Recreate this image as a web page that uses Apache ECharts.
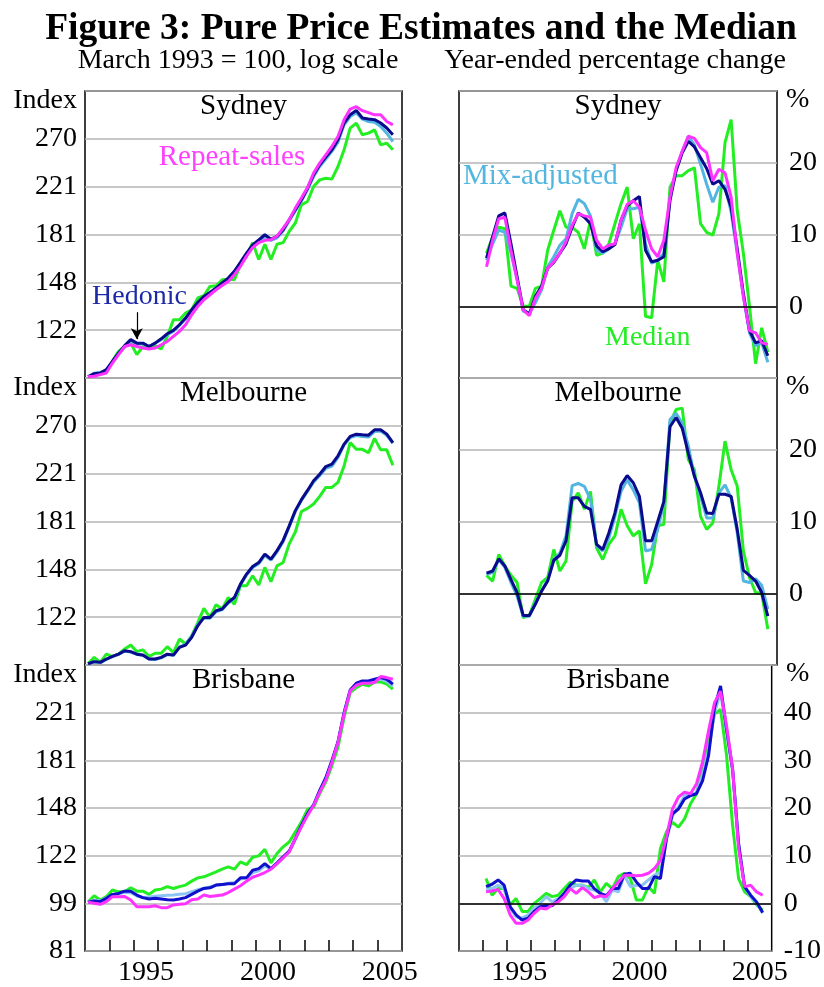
<!DOCTYPE html>
<html>
<head>
<meta charset="utf-8">
<script src="https://cdn.jsdelivr.net/npm/echarts@6/dist/echarts.min.js"></script>
<style>
  html, body { margin: 0; padding: 0; background: #fff; }
  #chart { width: 824px; height: 987px; }
</style>
</head>
<body>
<div id="chart"></div>
<script>
// Quarterly, March 1993 to September 2005; points sit mid-quarter
const firstYear = 1993;
const nQuarters = 51;
const changeStart = 4; // year-ended changes begin March 1994
const tickYears = [1994, 1995, 1996, 1997, 1998, 1999, 2000, 2001, 2002, 2003, 2004, 2005];
const labelYears = [1995, 2000, 2005];

// ---- index levels (March 1993 = 100) ----
const sydHedonic = [100, 101.3, 101.6, 103.0, 106.7, 110.4, 113.9, 116.8, 115.1, 115.1,
  113.5, 115.1, 117.2, 119.7, 121.4, 124.3, 127.8, 132.3, 136.5, 139.9,
  142.3, 144.9, 148.0, 151.1, 155.4, 161.3, 167.7, 173.6, 177.3, 181.1,
  177.8, 179.8, 184.9, 192.8, 201.0, 209.6, 220.0, 232.6, 242.6, 250.5,
  258.3, 269.4, 288.9, 299.1, 304.6, 295.0, 293.8, 293.0, 288.9, 283.0, 275.2];
const sydMix = [100, 101.5, 101.8, 102.8, 106.2, 110.0, 113.2, 116.0, 114.6, 114.8,
  113.6, 115.0, 116.8, 119.2, 121.0, 124.0, 127.5, 132.0, 136.2, 139.6,
  142.0, 144.6, 147.6, 150.8, 155.0, 160.8, 167.0, 173.0, 176.4, 179.8,
  176.8, 178.8, 184.0, 192.0, 200.2, 208.5, 218.6, 231.0, 240.9, 248.6,
  256.6, 266.8, 286.7, 296.9, 301.7, 293.6, 290.7, 289.7, 284.7, 276.9, 267.4];
const sydRepeat = [100, 100.2, 100.9, 101.6, 105.9, 109.7, 113.5, 114.3, 113.5, 112.8,
  112.3, 112.8, 114.3, 115.9, 118.4, 120.9, 124.3, 129.6, 134.2, 138.0,
  140.9, 143.9, 146.5, 149.0, 153.2, 158.7, 165.6, 171.6, 175.2, 176.9,
  177.3, 180.0, 186.2, 192.8, 202.4, 211.1, 220.6, 234.3, 244.3, 252.9,
  261.9, 273.1, 292.8, 306.3, 309.3, 304.2, 301.7, 299.0, 299.0, 290.7, 286.7];
const sydMedian = [100, 100.9, 101.6, 102.3, 106.7, 111.2, 113.5, 115.1, 109.7, 113.5,
  113.5, 113.9, 112.3, 118.4, 126.9, 126.9, 130.5, 132.3, 139.0, 140.3,
  145.9, 146.3, 150.0, 150.4, 150.0, 159.8, 165.6, 175.2, 163.3, 174.0,
  163.3, 174.0, 175.2, 183.6, 190.2, 205.2, 208.1, 221.6, 227.8, 229.4,
  228.5, 240.9, 258.3, 282.8, 288.7, 275.0, 276.9, 280.8, 263.7, 265.6, 258.3];

const melHedonic = [100, 100.9, 100.6, 102.0, 103.1, 104.1, 105.6, 105.2, 104.1, 103.7,
  102.0, 102.0, 102.7, 104.1, 103.7, 107.1, 108.1, 111.7, 117.2, 121.4,
  121.4, 124.8, 125.7, 129.3, 131.9, 139.5, 145.5, 150.2, 152.7, 158.2,
  154.9, 160.5, 167.5, 178.0, 189.7, 198.6, 206.4, 214.9, 220.9, 228.1,
  230.4, 238.6, 250.5, 258.7, 261.2, 260.5, 260.1, 266.0, 266.0, 261.2, 252.2];
const melMix = [100, 100.7, 100.4, 101.8, 103.0, 104.0, 105.4, 105.0, 104.0, 103.5,
  102.0, 101.8, 102.5, 103.9, 103.6, 107.3, 108.5, 112.2, 117.8, 121.0,
  121.0, 124.3, 125.4, 128.9, 131.5, 139.0, 145.0, 149.6, 152.0, 157.4,
  154.2, 159.7, 166.6, 177.3, 189.0, 198.0, 205.6, 213.8, 219.6, 226.3,
  228.5, 237.0, 249.5, 257.4, 259.6, 258.7, 258.0, 264.2, 264.6, 260.0, 251.2];
const melMedian = [100, 102.7, 100.6, 104.1, 103.1, 104.1, 106.4, 108.1, 105.2, 106.0,
  103.1, 104.5, 104.5, 107.4, 104.8, 110.9, 108.6, 112.4, 118.8, 126.1,
  121.4, 128.0, 125.7, 131.9, 128.3, 138.6, 138.6, 144.5, 139.0, 149.6,
  140.9, 150.6, 152.7, 165.1, 173.5, 189.0, 191.5, 195.0, 201.3, 209.0,
  209.0, 213.5, 228.7, 252.2, 245.1, 245.1, 241.6, 256.6, 244.6, 244.6, 229.4];

const brisHedonic = [100, 100.5, 100.2, 101.6, 103.3, 103.7, 104.7, 104.7, 103.0, 101.9,
  101.3, 101.6, 101.3, 101.0, 100.9, 101.3, 101.9, 103.3, 104.7, 105.9,
  106.2, 107.4, 107.7, 108.0, 108.0, 110.7, 110.7, 114.3, 115.1, 117.5,
  115.1, 117.9, 120.9, 123.8, 130.5, 138.0, 144.9, 150.4, 159.8, 168.5,
  181.1, 196.0, 221.6, 243.6, 250.5, 252.9, 252.9, 254.7, 256.5, 254.7, 249.5];
const brisMix = [100, 100.8, 100.5, 101.8, 103.0, 103.5, 104.2, 104.0, 102.6, 101.8,
  102.2, 102.5, 102.7, 102.9, 103.0, 103.3, 103.6, 104.5, 105.3, 106.0,
  106.6, 107.4, 107.6, 108.2, 108.6, 110.2, 110.6, 113.2, 114.0, 116.4,
  115.0, 117.4, 120.4, 123.5, 130.0, 137.6, 144.5, 150.0, 159.4, 168.0,
  180.4, 195.5, 220.7, 242.5, 249.3, 251.6, 251.9, 253.6, 254.9, 252.5, 247.2];
const brisRepeat = [100, 99.5, 99.1, 100.2, 102.3, 102.3, 102.4, 100.9, 98.1, 98.1,
  98.1, 98.5, 97.7, 97.7, 98.8, 99.1, 99.3, 101.0, 101.3, 103.0,
  102.4, 102.7, 103.0, 104.1, 105.6, 107.1, 109.2, 111.0, 112.0, 113.2,
  114.8, 117.5, 120.4, 123.4, 130.5, 137.1, 143.9, 150.0, 158.7, 166.8,
  179.8, 195.5, 220.0, 242.6, 248.4, 250.5, 250.5, 251.2, 257.6, 256.5, 254.7];
const brisMedian = [100, 102.7, 100.9, 102.3, 105.2, 104.4, 104.4, 106.2, 104.7, 104.7,
  103.3, 105.2, 105.6, 106.7, 105.9, 106.7, 107.4, 109.2, 110.7, 111.2,
  112.3, 113.5, 114.8, 115.9, 114.8, 118.4, 117.0, 120.7, 121.4, 124.8,
  117.9, 122.6, 126.1, 128.7, 134.2, 139.9, 147.6, 149.0, 157.6, 165.6,
  177.3, 191.5, 217.0, 240.9, 245.9, 249.5, 247.7, 251.9, 251.9, 249.5, 244.3];

// ---- year-ended percentage change, March 1994 onwards ----
const sydHedonicChg = [6.7, 9.7, 12.6, 13.0, 8.7, 4.1, -0.5, -1.1, 1.4, 2.8,
  5.3, 6.1, 7.4, 8.7, 11.0, 13.0, 12.4, 11.5, 8.4, 7.6,
  8.0, 8.6, 12.0, 14.0, 14.7, 15.3, 7.8, 6.2, 6.4, 6.9,
  14.7, 18.9, 21.4, 23.0, 22.2, 20.7, 19.2, 17.0, 17.5, 16.3,
  13.8, 8.0, 1.8, -3.4, -5.1, -4.8, -6.9];
const sydMixChg = [6.4, 8.7, 10.6, 10.3, 7.4, 3.7, -0.7, -0.9, 0.5, 2.3,
  5.5, 6.9, 8.5, 9.4, 12.9, 14.9, 14.3, 12.6, 7.8, 7.4,
  8.0, 8.7, 11.0, 13.6, 13.6, 13.8, 8.7, 6.0, 6.4, 7.4,
  15.2, 18.9, 21.6, 23.7, 22.5, 19.8, 17.0, 14.5, 16.6, 16.8,
  13.1, 7.4, 1.4, -3.7, -5.5, -5.1, -7.8];
const sydRepeatChg = [5.5, 9.2, 12.2, 12.4, 7.8, 3.7, -0.5, -1.3, 1.1, 2.5,
  5.3, 6.2, 7.4, 9.0, 11.3, 12.9, 12.6, 12.4, 9.2, 8.0,
  8.5, 8.7, 12.0, 14.2, 14.7, 13.8, 10.6, 8.0, 6.9, 9.2,
  15.2, 19.3, 21.6, 23.7, 23.4, 22.1, 21.4, 17.5, 19.1, 18.6,
  15.2, 7.4, 1.4, -3.4, -3.7, -5.1, -5.3];
const sydMedianChg = [7.4, 9.7, 11.0, 10.8, 2.8, 2.5, 0, 0, 2.5, 2.8,
  7.8, 10.6, 13.3, 11.0, 11.0, 10.3, 8.0, 12.0, 7.1, 7.4,
  8.7, 11.5, 14.3, 16.6, 9.4, 11.5, -1.4, -1.6, 6.4, 3.4,
  16.6, 18.2, 18.2, 18.9, 19.3, 11.5, 10.3, 9.9, 12.9, 22.8,
  26.0, 13.3, 7.4, 0, -8.0, -3.0, -6.4];

const melHedonicChg = [2.8, 3.1, 4.8, 3.8, 1.9, 0.1, -3.1, -3.1, -1.5, 0.3,
  1.7, 4.6, 5.3, 7.3, 13.3, 13.3, 12.1, 11.7, 6.8, 6.1,
  8.4, 11.2, 15.1, 16.4, 15.4, 13.5, 7.3, 7.3, 10.0, 12.8,
  23.2, 24.5, 23.0, 19.5, 16.3, 14.0, 11.2, 11.1, 13.8, 13.8,
  13.5, 8.9, 3.2, 2.5, 1.7, 0.1, -3.2];
const melMixChg = [2.6, 2.9, 4.7, 3.6, 1.5, -0.4, -3.2, -3.2, -1.3, 0.3,
  1.9, 4.7, 5.6, 8.0, 15.0, 15.3, 14.9, 13.1, 6.6, 5.9,
  7.7, 10.7, 14.2, 15.8, 14.4, 12.6, 5.9, 6.1, 8.9, 12.6,
  24.2, 25.1, 23.7, 20.5, 16.3, 13.5, 10.5, 10.5, 14.0, 15.1,
  13.3, 8.4, 1.7, 1.5, 2.0, 1.1, -2.2];
const melMedianChg = [2.5, 1.7, 5.4, 3.8, 2.5, 1.5, -3.4, -3.1, -0.8, 1.5,
  2.2, 6.1, 3.1, 4.5, 12.8, 14.0, 11.7, 14.2, 6.3, 4.7,
  6.8, 8.0, 11.7, 9.4, 8.0, 8.7, 1.3, 4.0, 9.4, 9.6,
  23.7, 25.6, 25.8, 18.6, 17.2, 10.7, 8.9, 9.8, 14.9, 21.2,
  17.2, 14.9, 5.9, 2.2, 0.1, 0, -5.0];

const brisHedonicChg = [3.5, 4.0, 4.9, 3.8, -0.7, -2.4, -3.5, -3.1, -1.7, -0.7,
  -0.5, -0.5, 0.7, 2.1, 3.8, 4.9, 4.7, 4.7, 3.1, 2.1,
  1.6, 3.1, 3.1, 6.1, 6.3, 4.5, 3.1, 3.1, 5.6, 5.2,
  13.6, 18.8, 19.8, 21.9, 22.6, 23.0, 25.7, 31.0, 41.1, 45.6,
  36.5, 28.2, 12.5, 3.5, 1.7, 0.3, -1.9];
const brisMixChg = [2.8, 3.1, 3.8, 3.1, -1.0, -2.8, -3.1, -2.4, -1.0, 0,
  1.4, 0.3, 1.0, 1.4, 3.1, 3.8, 3.8, 3.1, 2.8, 2.1,
  0.3, 2.8, 2.4, 5.9, 3.5, 3.8, 3.8, 4.9, 5.9, 6.6,
  13.2, 18.4, 20.2, 22.6, 22.6, 23.3, 26.8, 32.0, 40.0, 44.2,
  35.8, 27.8, 12.5, 3.5, 1.4, 0, -2.1];
const brisRepeatChg = [2.4, 2.6, 2.9, 1.0, -2.4, -4.2, -4.2, -3.5, -2.1, -1.0,
  -1.2, -0.3, 0.3, 1.4, 3.1, 2.1, 3.3, 2.4, 1.2, 1.6,
  1.4, 3.1, 4.5, 5.9, 5.9, 5.8, 5.9, 6.3, 7.3, 9.0,
  13.9, 19.8, 22.3, 23.3, 23.0, 25.1, 29.6, 36.2, 42.1, 44.5,
  37.2, 28.2, 11.5, 3.5, 3.8, 2.4, 1.7];
const brisMedianChg = [5.2, 1.7, 3.1, 3.1, -0.3, 1.0, -1.7, -1.7, 0, 1.0,
  2.1, 1.4, 1.7, 3.1, 4.4, 3.8, 3.8, 3.3, 4.9, 2.4,
  4.2, 3.1, 5.6, 6.3, 5.2, 0.7, 0.7, 3.5, 2.1, 11.5,
  15.0, 17.0, 16.0, 17.7, 20.9, 23.0, 28.2, 34.4, 39.7, 40.7,
  31.0, 16.4, 5.2, 2.4, 1.4, -0.3, -1.4];

const quarterPos = [];
for (let i = 0; i < nQuarters; i++) quarterPos.push(firstYear + 0.125 + 0.25 * i);

const font = 'Liberation Serif';
const black = '#000';
const gridGrey = '#b4b4b4';
const colHedonic = '#0a0a8c';
const colHedonicBris = '#1010cc';
const colMix = '#52b6e0';
const colMixBris = '#8cc4f4';
const colRepeat = '#ff33ff';
const colMedian = '#22ee22';

const rowTops = [91, 378, 665];
const rowHeight = 287;
const leftX = 85, leftW = 317;
const rightX = 459, rightW = 318;

const panels = [
  { city: 'Sydney', lvlMin: 4.6, lvlMax: 5.8, chgMax: 30, last: false,
    lvl: { median: sydMedian, mix: sydMix, hedonic: sydHedonic, repeat: sydRepeat },
    chg: { median: sydMedianChg, mix: sydMixChg, hedonic: sydHedonicChg, repeat: sydRepeatChg },
    hedColor: colHedonic, mixColor: colMix },
  { city: 'Melbourne', lvlMin: 4.6, lvlMax: 5.8, chgMax: 30, last: false,
    lvl: { median: melMedian, mix: melMix, hedonic: melHedonic },
    chg: { median: melMedianChg, mix: melMixChg, hedonic: melHedonicChg },
    hedColor: colHedonic, mixColor: colMix },
  { city: 'Brisbane', lvlMin: 4.4, lvlMax: 5.6, chgMax: 50, last: true,
    lvl: { median: brisMedian, mix: brisMix, hedonic: brisHedonic, repeat: brisRepeat },
    chg: { median: brisMedianChg, mix: brisMixChg, hedonic: brisHedonicChg, repeat: brisRepeatChg },
    hedColor: colHedonicBris, mixColor: colMixBris }
];

const levelData = arr => arr.map((v, i) => [quarterPos[i], Math.log(v)]);
const changeData = arr => arr.map((v, i) => [quarterPos[i + changeStart], v]);

const labelStyle = { fontFamily: font, fontSize: 28, color: black };

function xAxisFor(gridIndex, last) {
  return {
    type: 'value', gridIndex, min: 1993, max: 2006,
    axisLine: { show: false, onZero: false },
    splitLine: { show: false },
    axisTick: last
      ? { show: true, inside: true, length: 11, customValues: tickYears, lineStyle: { color: black, width: 1.5 } }
      : { show: false },
    axisLabel: last
      ? Object.assign({ show: true, customValues: labelYears.map(y => y + 0.5), formatter: v => String(Math.floor(v)), margin: 8 }, labelStyle)
      : { show: false }
  };
}

const grid = [], xAxis = [], yAxis = [], series = [];
const seriesOrder = ['median', 'mix', 'hedonic', 'repeat'];

panels.forEach((p, r) => {
  const top = rowTops[r];
  const gl = r * 2, gr = r * 2 + 1;
  grid.push({ left: leftX, top, width: leftW, height: rowHeight, show: true, borderColor: black, borderWidth: 1.5 });
  grid.push({ left: rightX, top, width: rightW, height: rowHeight, show: true, borderColor: black, borderWidth: 1.5 });
  xAxis.push(xAxisFor(gl, p.last), xAxisFor(gr, p.last));
  yAxis.push({
    type: 'value', gridIndex: gl, min: p.lvlMin, max: p.lvlMax, interval: 0.2, position: 'left',
    axisLine: { show: false }, axisTick: { show: false },
    splitLine: { show: true, lineStyle: { color: gridGrey, width: 1.5 } },
    axisLabel: Object.assign({ formatter: v => String(Math.round(Math.exp(v))), showMinLabel: p.last, showMaxLabel: false, margin: 8 }, labelStyle)
  });
  yAxis.push({
    type: 'value', gridIndex: gr, min: -10, max: p.chgMax, interval: 10, position: 'right',
    axisLine: { show: false }, axisTick: { show: false },
    splitLine: { show: true, lineStyle: { color: gridGrey, width: 1.5 } },
    axisLabel: Object.assign({ formatter: v => String(v), showMinLabel: p.last, showMaxLabel: false, margin: 12 }, labelStyle)
  });

  const colorOf = { median: colMedian, mix: p.mixColor, hedonic: p.hedColor, repeat: colRepeat };
  seriesOrder.forEach(key => {
    if (!p.lvl[key]) return;
    const s = {
      type: 'line', name: p.city + ' ' + key, xAxisIndex: gl, yAxisIndex: gl,
      data: levelData(p.lvl[key]), showSymbol: false, symbol: 'none',
      lineStyle: { color: colorOf[key], width: 3 }, itemStyle: { color: colorOf[key] },
      animation: false, silent: true
    };
    if (r === 0 && key === 'hedonic') {
      s.markLine = {
        silent: true, symbol: ['none', 'arrow'], symbolSize: [9, 11],
        lineStyle: { color: black, width: 1.2, type: 'solid' }, label: { show: false },
        data: [[{ coord: [1995.125, Math.log(131)] }, { coord: [1995.125, Math.log(117)] }]]
      };
    }
    series.push(s);
  });
  seriesOrder.forEach(key => {
    if (!p.chg[key]) return;
    const s = {
      type: 'line', name: p.city + ' ' + key + ' change', xAxisIndex: gr, yAxisIndex: gr,
      data: changeData(p.chg[key]), showSymbol: false, symbol: 'none',
      lineStyle: { color: colorOf[key], width: 3 }, itemStyle: { color: colorOf[key] },
      animation: false, silent: true
    };
    if (key === 'median') {
      s.markLine = {
        silent: true, symbol: ['none', 'none'],
        lineStyle: { color: black, width: 1.5, type: 'solid' }, label: { show: false },
        data: [{ yAxis: 0 }]
      };
    }
    series.push(s);
  });
});

function text(str, x, y, opts) {
  opts = opts || {};
  return {
    type: 'text', x, y, silent: true, z: 100,
    style: {
      text: str, fill: opts.color || black,
      font: (opts.weight || 'normal') + ' ' + (opts.size || 28) + 'px "' + font + '"',
      textAlign: opts.align || 'center', textVerticalAlign: 'middle'
    }
  };
}

const graphic = [
  text('Figure 3: Pure Price Estimates and the Median', 421, 29, { size: 37.5, weight: 'bold' }),
  text('March 1993 = 100, log scale', 238, 61),
  text('Year-ended percentage change', 615, 61)
];
panels.forEach((p, r) => {
  const top = rowTops[r];
  graphic.push(text(p.city, leftX + leftW / 2, top + 15, { size: 29 }));
  graphic.push(text(p.city, rightX + rightW / 2, top + 15, { size: 29 }));
  graphic.push(text('Index', 77, top + 10, { align: 'right' }));
  graphic.push(text('%', 786, top + 9, { align: 'left' }));
});
graphic.push(text('Repeat-sales', 232, 157, { color: '#ff40ff', size: 29 }));
graphic.push(text('Hedonic', 92, 297, { color: '#1c2aa8', align: 'left' }));
graphic.push(text('Mix-adjusted', 463, 176, { color: colMix, size: 29, align: 'left' }));
graphic.push(text('Median', 605, 338, { color: colMedian, align: 'left' }));

const chart = echarts.init(document.getElementById('chart'));
chart.setOption({
  backgroundColor: '#fff',
  animation: false,
  grid, xAxis, yAxis, series, graphic
});
</script>
</body>
</html>
